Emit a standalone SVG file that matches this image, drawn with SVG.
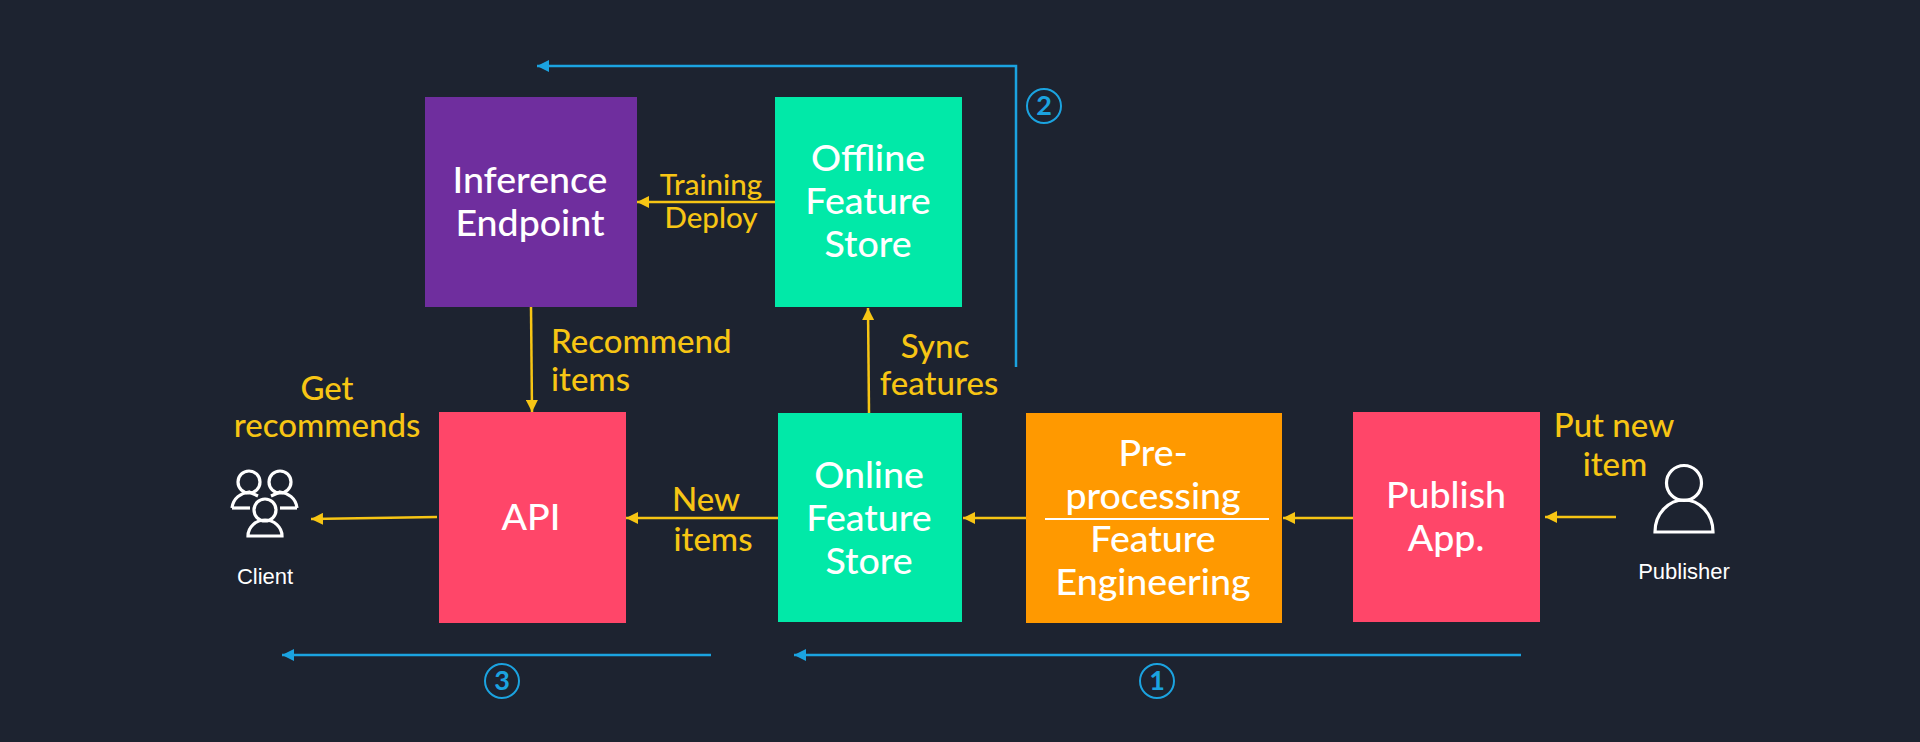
<svg xmlns="http://www.w3.org/2000/svg" width="1920" height="742" viewBox="0 0 1920 742">
<style>
.n{font:500 37.5px Lato,"Noto Sans",sans-serif;fill:#fff;text-anchor:middle}
.y{font:500 33px Lato,"Noto Sans",sans-serif;fill:#f7c514;text-anchor:middle}
.s{font:500 29.5px Lato,"Noto Sans",sans-serif;fill:#f7c514;text-anchor:middle}
.c{font:22px "Liberation Sans",Arial,sans-serif;fill:#fff;text-anchor:middle}
.d{font:700 27px Lato,"Noto Sans",sans-serif;fill:#1ba3e0;text-anchor:middle}
.yl{stroke:#f7c514;stroke-width:2.5;fill:none;marker-end:url(#ya)}
.bl{stroke:#1ba3e0;stroke-width:2.5;fill:none;marker-end:url(#ba)}
.ci{stroke:#1ba3e0;stroke-width:2;fill:none}
.ic{stroke:#fff;stroke-width:3.2;fill:none}
</style>
<defs>
<marker id="ya" markerUnits="userSpaceOnUse" markerWidth="12" markerHeight="12" refX="12" refY="6" orient="auto"><path d="M0 0L12 6L0 12Z" fill="#f7c514"/></marker>
<marker id="ba" markerUnits="userSpaceOnUse" markerWidth="12" markerHeight="12" refX="12" refY="6" orient="auto"><path d="M0 0L12 6L0 12Z" fill="#1ba3e0"/></marker>
</defs>
<rect width="1920" height="742" fill="#1d2330"/>
<g id="connectors">
<path class="yl" d="M775 202H637"/>
<path class="yl" d="M869 413L868 308"/>
<path class="yl" d="M531 307L532 412"/>
<path class="yl" d="M778 518H626"/>
<path class="yl" d="M1026 518H963"/>
<path class="yl" d="M1353 518H1283"/>
<path class="yl" d="M1616 517H1545"/>
<path class="yl" d="M437 517L311 519"/>
<path class="bl" d="M1016 367V66H537"/>
<path class="bl" d="M711 655H282"/>
<path class="bl" d="M1521 655H794"/>
</g>
<g id="inference"><rect x="425" y="97" width="212" height="210" fill="#6f2e9e"/><text class="n" x="530" y="193">Inference</text><text class="n" x="530" y="236">Endpoint</text></g>
<g id="offline"><rect x="775" y="97" width="187" height="210" fill="#01e9a8"/><text class="n" x="868" y="171">Offline</text><text class="n" x="868" y="214">Feature</text><text class="n" x="868" y="257">Store</text></g>
<g id="api"><rect x="439" y="412" width="187" height="211" fill="#ff4669"/><text class="n" x="531" y="530">API</text></g>
<g id="online"><rect x="778" y="413" width="184" height="209" fill="#01e9a8"/><text class="n" x="869" y="488">Online</text><text class="n" x="869" y="531">Feature</text><text class="n" x="869" y="574">Store</text></g>
<g id="preprocessing"><rect x="1026" y="413" width="256" height="210" fill="#ff9900"/><text class="n" x="1153" y="466">Pre-</text><text class="n" x="1153" y="509">processing</text><path d="M1045 519H1269" stroke="#fff" stroke-width="2"/><text class="n" x="1153" y="552">Feature</text><text class="n" x="1153" y="595">Engineering</text></g>
<g id="publish"><rect x="1353" y="412" width="187" height="210" fill="#ff4669"/><text class="n" x="1446" y="508">Publish</text><text class="n" x="1446" y="551">App.</text></g>
<g id="client"><g class="ic"><circle cx="249" cy="482" r="11"/><circle cx="280" cy="482" r="11"/><circle cx="265" cy="510" r="11"/><path d="M232 508C233 498 241 493 249 492L258 496"/><path d="M232 508H250"/><path d="M297 508C296 498 288 493 280 492L271 496"/><path d="M280 508H297"/><path d="M248 536C248 527 256 520 265 520C274 520 282 527 282 536Z"/></g><text class="c" x="265" y="584">Client</text></g>
<g id="publisher"><g class="ic"><circle cx="1684" cy="483" r="17.5"/><path d="M1655 532C1655 513 1669 500 1684 500C1699 500 1713 513 1713 532Z"/></g><text class="c" x="1684" y="579">Publisher</text></g>
<g id="labels">
<text class="s" x="711" y="195">Training</text><text class="s" x="711" y="228">Deploy</text>
<text class="y" x="551" y="353" style="text-anchor:start">Recommend</text><text class="y" x="551" y="391" style="text-anchor:start">items</text>
<text class="y" x="935" y="358">Sync</text><text class="y" x="939" y="395">features</text>
<text class="y" x="327" y="400">Get</text><text class="y" x="327" y="437">recommends</text>
<text class="y" x="706" y="511">New</text><text class="y" x="713" y="551">items</text>
<text class="y" x="1614" y="437">Put new</text><text class="y" x="1615" y="476">item</text>
</g>
<g id="step1"><circle class="ci" cx="1157" cy="681" r="17"/><text class="d" x="1157" y="690">1</text></g>
<g id="step2"><circle class="ci" cx="1044" cy="106" r="17"/><text class="d" x="1044" y="115">2</text></g>
<g id="step3"><circle class="ci" cx="502" cy="681" r="17"/><text class="d" x="502" y="690">3</text></g>
</svg>
